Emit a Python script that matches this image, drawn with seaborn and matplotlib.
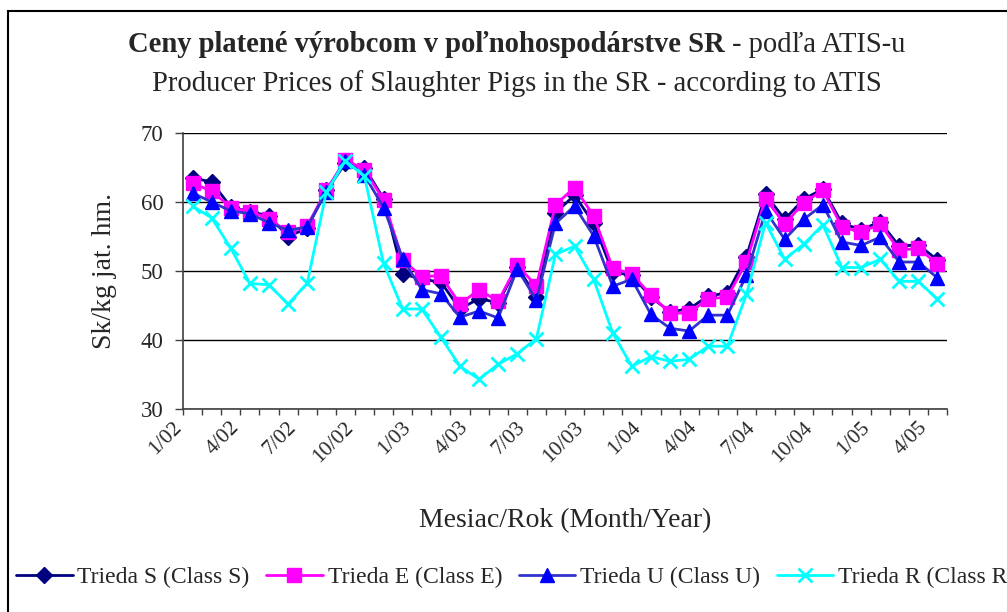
# Ceny platene vyrobcom - jatocne osipane (ATIS)

import numpy as np
import matplotlib
matplotlib.use("Agg")
import matplotlib.pyplot as plt
import matplotlib.transforms as mtransforms
import seaborn as sns
from matplotlib.patches import Rectangle


# Data

tick_labels = ["1/02", "4/02", "7/02", "10/02", "1/03", "4/03", "7/03",
               "10/03", "1/04", "4/04", "7/04", "10/04", "1/05", "4/05"]

trieda_s = [63.5, 62.9, 59.3, 58.6, 58.0, 55.0, 56.2, 61.7, 65.6, 65.0,
            60.5, 49.6, 48.8, 48.4, 44.5, 46.0, 45.4, 50.6, 46.3, 58.4,
            61.0, 56.9, 49.8, 49.4, 46.2, 44.1, 44.5, 46.4, 46.8, 52.1,
            61.1, 57.5, 60.4, 61.9, 56.9, 56.0, 57.1, 53.6, 53.8, 51.6]

trieda_e = [62.7, 61.6, 59.2, 58.6, 57.6, 55.6, 56.5, 61.7, 66.1, 64.7,
            60.3, 51.6, 49.2, 49.3, 45.2, 47.3, 45.6, 50.9, 47.8, 59.6,
            62.1, 58.0, 50.4, 49.6, 46.5, 43.9, 43.9, 46.0, 46.2, 51.3,
            60.5, 56.8, 59.9, 61.7, 56.4, 55.6, 56.8, 53.0, 53.3, 51.0]

trieda_u = [61.3, 60.0, 58.7, 58.3, 57.0, 55.9, 56.4, 61.4, 66.0, 63.9,
            59.2, 51.8, 47.3, 46.7, 43.3, 44.2, 43.2, 50.3, 45.8, 56.9,
            59.4, 55.1, 47.8, 48.8, 43.7, 41.7, 41.3, 43.6, 43.6, 49.4,
            58.7, 54.6, 57.5, 59.6, 54.2, 53.7, 54.9, 51.3, 51.3, 49.0]

trieda_r = [59.4, 57.7, 53.3, 48.2, 48.0, 45.2, 48.2, 61.4, 66.0, 63.7,
            51.1, 44.5, 44.5, 40.4, 36.2, 34.3, 36.5, 38.0, 40.2, 52.4,
            53.6, 48.8, 41.0, 36.2, 37.6, 36.9, 37.2, 39.1, 39.1, 46.6,
            57.0, 51.7, 53.9, 56.7, 50.5, 50.5, 51.7, 48.5, 48.5, 45.9]

series_names = ["Trieda S (Class S)", "Trieda E (Class E)",
                "Trieda U (Class U)", "Trieda R (Class R)"]


# Style

sns.set_style("white")
plt.rcParams["font.family"] = ["Liberation Serif", "DejaVu Serif"]

W, H = 1007, 612
fig = plt.figure(figsize=(W / 100, H / 100), dpi=100)
ax = fig.add_axes([183 / W, 1 - 409 / H, 764 / W, 276 / H])

x = np.arange(len(trieda_s))

styles = [
    (trieda_s, "#000080", "D", "#000080", 8),
    (trieda_e, "#FF00FF", "s", "#FF00FF", 9.5),
    (trieda_u, "#3333CC", "^", "#0000FF", 10.5),
    (trieda_r, "#00FFFF", "x", "#00FFFF", 10),
]

handles = []
for (vals, lc, mk, mc, ms), name in zip(styles, series_names):
    n_before = len(ax.lines)
    sns.lineplot(x=x, y=vals, ax=ax, color=lc, linewidth=2,
                 marker=mk, markersize=ms, markerfacecolor=mc,
                 markeredgecolor=mc, markeredgewidth=2 if mk == "x" else 1,
                 legend=False)
    line = ax.lines[n_before]
    line.set_label(name)
    handles.append(line)


# Axes

ax.set_ylim(30, 70)
ax.set_yticks([30, 40, 50, 60, 70])
ax.set_xlim(-0.5, len(x) - 0.5)
ax.yaxis.grid(True, color="black", linewidth=1)
ax.set_axisbelow(True)

for side in ["top", "right"]:
    ax.spines[side].set_visible(False)
for side in ["left", "bottom"]:
    ax.spines[side].set_color("#404040")
    ax.spines[side].set_linewidth(1.2)

ax.tick_params(axis="y", direction="out", length=6, width=1,
               color="#404040", labelsize=16.5, pad=8, left=True)

ax.set_xticks(x[::3])
ax.set_xticklabels(tick_labels, rotation=45, ha="right", va="top",
                   rotation_mode="anchor", fontsize=15.5)
ax.set_xticks(np.arange(-0.5, len(x), 1), minor=True)
ax.tick_params(axis="x", which="major", length=0, pad=6.5)
ax.tick_params(axis="x", which="minor", direction="out", length=4.5,
               width=1, color="#404040", bottom=True)

# shift the rotated month labels a bit to the left, like the original
shift = mtransforms.ScaledTranslation(-0.2, 0, fig.dpi_scale_trans)
for lab in ax.get_xticklabels():
    lab.set_transform(lab.get_transform() + shift)

ax.set_ylabel("Sk/kg jat. hm.", fontsize=20)
ax.yaxis.set_label_coords(-0.086, 0.5)
ax.set_xlabel("Mesiac/Rok (Month/Year)", fontsize=20)
ax.xaxis.set_label_coords(0.5, -0.36)


# Title (bold part + normal part on the first line)

cx = 517 / W
t1 = fig.text(0, 1 - 45 / H, "Ceny platené výrobcom v poľnohospodárstve SR",
              fontsize=20.6, fontweight="bold", ha="left", va="center")
t2 = fig.text(0, 1 - 45 / H, " - podľa ATIS-u",
              fontsize=20.6, ha="left", va="center")
fig.canvas.draw()
r = fig.canvas.get_renderer()
w1 = t1.get_window_extent(r).width / W
w2 = t2.get_window_extent(r).width / W
start = cx - (w1 + w2) / 2
t1.set_x(start)
t2.set_x(start + w1)

fig.text(cx, 1 - 84 / H,
         "Producer Prices of Slaughter Pigs in the SR - according to ATIS",
         fontsize=20.6, ha="center", va="center")


# Legend

fig.legend(handles=handles, labels=series_names, loc="center left",
           bbox_to_anchor=(16 / W, 1 - 577 / H), ncol=4, frameon=False,
           fontsize=17, handlelength=2.4, handletextpad=0.2,
           columnspacing=0.7, borderpad=0, borderaxespad=0, numpoints=1)


# Chart area border (left and top edges visible)

fig.patches.append(Rectangle((8 / W, -0.1), 1.2, 1.1 - 10.5 / H,
                             transform=fig.transFigure, fill=False,
                             edgecolor="black", linewidth=1.5))

fig.savefig("out.png", dpi=100)
